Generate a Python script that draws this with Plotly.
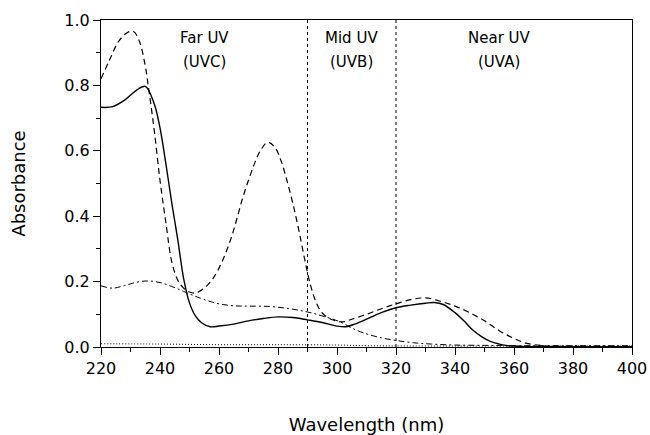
import plotly.graph_objects as go

# Wavelengths (nm) and absorbance values
wl_solid = [220, 224, 228, 232, 235, 238, 240, 242, 244, 246, 248, 250, 252, 254, 257, 260, 265, 270, 275,
            280, 285, 290, 295, 300, 303, 306, 310, 315, 320, 325, 330, 333, 336, 340, 343, 346, 349, 352,
            355, 358, 362, 370, 380, 390, 400]
abs_solid = [0.733, 0.735, 0.755, 0.785, 0.797, 0.745, 0.67, 0.56, 0.44, 0.33, 0.21, 0.135, 0.095, 0.075, 0.062,
             0.064, 0.07, 0.08, 0.087, 0.092, 0.09, 0.083, 0.075, 0.064, 0.062, 0.07, 0.085, 0.105, 0.12, 0.128,
             0.134, 0.136, 0.13, 0.105, 0.08, 0.052, 0.032, 0.017, 0.009, 0.004, 0.002, 0.001, 0.001, 0.001, 0.001]

wl_dash = [220, 223, 226, 229, 231, 233, 235, 236, 238, 240, 242, 244, 246, 248, 250, 252, 255, 258, 261, 264,
           266, 268, 270, 272, 274, 276.5, 279, 281, 283, 285, 287, 289, 291, 293, 295, 298, 302, 305, 310,
           315, 320, 325, 330, 335, 340, 345, 350, 355, 360, 364, 370, 380, 390, 400]
abs_dash = [0.82, 0.88, 0.935, 0.962, 0.965, 0.935, 0.86, 0.8, 0.666, 0.51, 0.38, 0.26, 0.205, 0.18, 0.168, 0.165,
            0.18, 0.21, 0.26, 0.33, 0.39, 0.455, 0.51, 0.56, 0.60, 0.626, 0.61, 0.57, 0.51, 0.44, 0.36, 0.27,
            0.19, 0.135, 0.104, 0.085, 0.077, 0.085, 0.10, 0.117, 0.132, 0.145, 0.15, 0.14, 0.125, 0.105,
            0.08, 0.05, 0.026, 0.012, 0.004, 0.002, 0.001, 0.001]

wl_dashdot = [220, 224, 228, 232, 236, 240, 244, 248, 252, 256, 260, 265, 270, 277, 284, 290, 295, 301, 305,
              309, 315, 320, 326, 332, 340, 350, 360, 380, 400]
abs_dashdot = [0.187, 0.18, 0.188, 0.198, 0.202, 0.197, 0.185, 0.17, 0.155, 0.142, 0.132, 0.126, 0.125, 0.124,
               0.117, 0.107, 0.095, 0.077, 0.058, 0.043, 0.028, 0.02, 0.013, 0.009, 0.006, 0.005, 0.004,
               0.004, 0.004]

wl_dot = [220, 240, 260, 280, 300, 310, 340, 400]
abs_dot = [0.010, 0.009, 0.007, 0.007, 0.006, 0.004, 0.003, 0.003]

# Region boundaries and labels
bounds = [290, 320]
region_lines1 = ["Far UV", "Mid UV", "Near UV"]
region_lines2 = ["(UVC)", "(UVB)", "(UVA)"]
region_centers = [255, 305, 355]

FONT = "DejaVu Sans"

fig = go.Figure()
common = dict(mode="lines", line_shape="spline", showlegend=False, hoverinfo="skip")
fig.add_trace(go.Scatter(x=wl_dot, y=abs_dot, line=dict(color="black", width=1, dash="1px,2px"), **common))
fig.add_trace(go.Scatter(x=wl_dashdot, y=abs_dashdot, line=dict(color="black", width=1, dash="6px,3px,2px,3px"), **common))
fig.add_trace(go.Scatter(x=wl_dash, y=abs_dash, line=dict(color="black", width=1.2, dash="6px,4px"), **common))
fig.add_trace(go.Scatter(x=wl_solid, y=abs_solid, line=dict(color="black", width=1.4), **common))

for b in bounds:
    fig.add_shape(type="line", x0=b, x1=b, y0=0, y1=1, xref="x", yref="y",
                  line=dict(color="black", width=1, dash="dot"))

for c, t1, t2 in zip(region_centers, region_lines1, region_lines2):
    fig.add_annotation(x=c, y=0.945, text=t1, showarrow=False, xref="x", yref="y",
                       font=dict(family=FONT, size=15, color="black"))
    fig.add_annotation(x=c, y=0.871, text=t2, showarrow=False, xref="x", yref="y",
                       font=dict(family=FONT, size=15, color="black"))

axis_common = dict(showline=True, linecolor="black", linewidth=1.2, mirror=True, ticks="outside",
                   tickcolor="black", tickwidth=1, ticklen=7, showgrid=False, zeroline=False,
                   tickfont=dict(family=FONT, size=16, color="black"))

fig.update_xaxes(range=[220, 400], tick0=220, dtick=20,
                 minor=dict(dtick=10, ticks="outside", ticklen=4, tickcolor="black", showgrid=False),
                 title=dict(text="Wavelength (nm)", font=dict(family=FONT, size=18, color="black"), standoff=41),
                 **axis_common)
fig.update_yaxes(range=[0, 1], tick0=0, dtick=0.2, tickformat=".1f",
                 minor=dict(dtick=0.1, ticks="outside", ticklen=4, tickcolor="black", showgrid=False),
                 title=dict(text="Absorbance", font=dict(family=FONT, size=18, color="black"), standoff=33),
                 **axis_common)

fig.update_layout(width=650, height=435, margin=dict(l=101, r=18, t=20, b=88, autoexpand=False),
                  plot_bgcolor="white", paper_bgcolor="white", font=dict(family=FONT, color="black"))

fig.write_html("out.html", config={"displayModeBar": False},
               post_script="document.body.style.margin='0';document.body.style.overflow='hidden';")
